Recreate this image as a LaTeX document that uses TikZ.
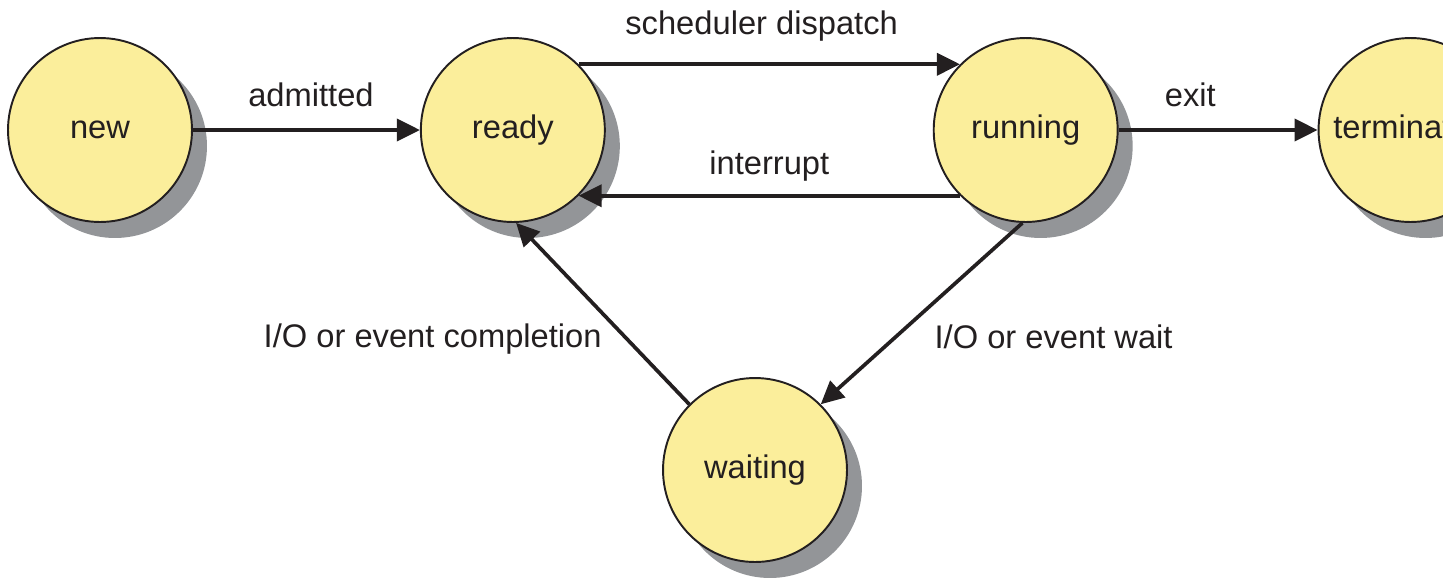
\documentclass[tikz,border=0pt]{standalone}
\usepackage{fontspec}
\setmainfont{Liberation Sans}
\usetikzlibrary{positioning, shadows, arrows.meta}
\definecolor{statefill}{RGB}{251,238,155}
\definecolor{shadowgray}{RGB}{147,149,152}
\definecolor{inkblack}{RGB}{35,31,32}

\begin{document}
\begin{tikzpicture}[
          x = 0.02cm, y = -0.02cm,
      color = inkblack,
       font = \fontsize{18.6}{22}\selectfont,
          > = {Triangle[length=4.6mm, width=4.4mm]},
state/.style = {circle, draw, line width=1.1pt, fill=statefill,
                minimum size=3.68cm, inner sep=0pt,
                text height=13.4pt, text depth=3.9pt,
                drop shadow={shadow xshift=3mm, shadow yshift=-3.2mm,
                             fill=shadowgray, opacity=1}},
trans/.style = {->, line width=2.1pt},
  lbl/.style = {inner sep=0pt, text height=0.72em, text depth=0.21em}
                    ]
\useasboundingbox (0,0) rectangle (1443,579);
\node (new)     [state] at (100,130) {new};
\node (ready)   [state, right=4.54cm of new] {ready};
\node (running) [state, right=6.54cm of ready] {running};
\node (term)    [state, right=3.98cm of running] {terminated};
\node (waiting) [state] at (755,470) {waiting};
\draw[trans] (new) -- node[lbl, above=3.6mm, pos=.52] {admitted} (ready);
\draw[trans] (ready.45) -- node[lbl, above=4.8mm, pos=.48] {scheduler dispatch} (running.135);
\draw[trans] (running.-135) -- node[lbl, above=3.2mm] {interrupt} (ready.-45);
\draw[trans] (running) -- node[lbl, above=3.6mm, pos=.36] {exit} (term);
\draw[trans] (running.-92) -- node[lbl, right=9.1mm, pos=.67] {I/O or event wait} (waiting.45);
\draw[trans] (waiting.135) -- node[lbl, left=5.5mm, pos=.337] {I/O or event completion} (ready.-88);
\end{tikzpicture}
\end{document}
